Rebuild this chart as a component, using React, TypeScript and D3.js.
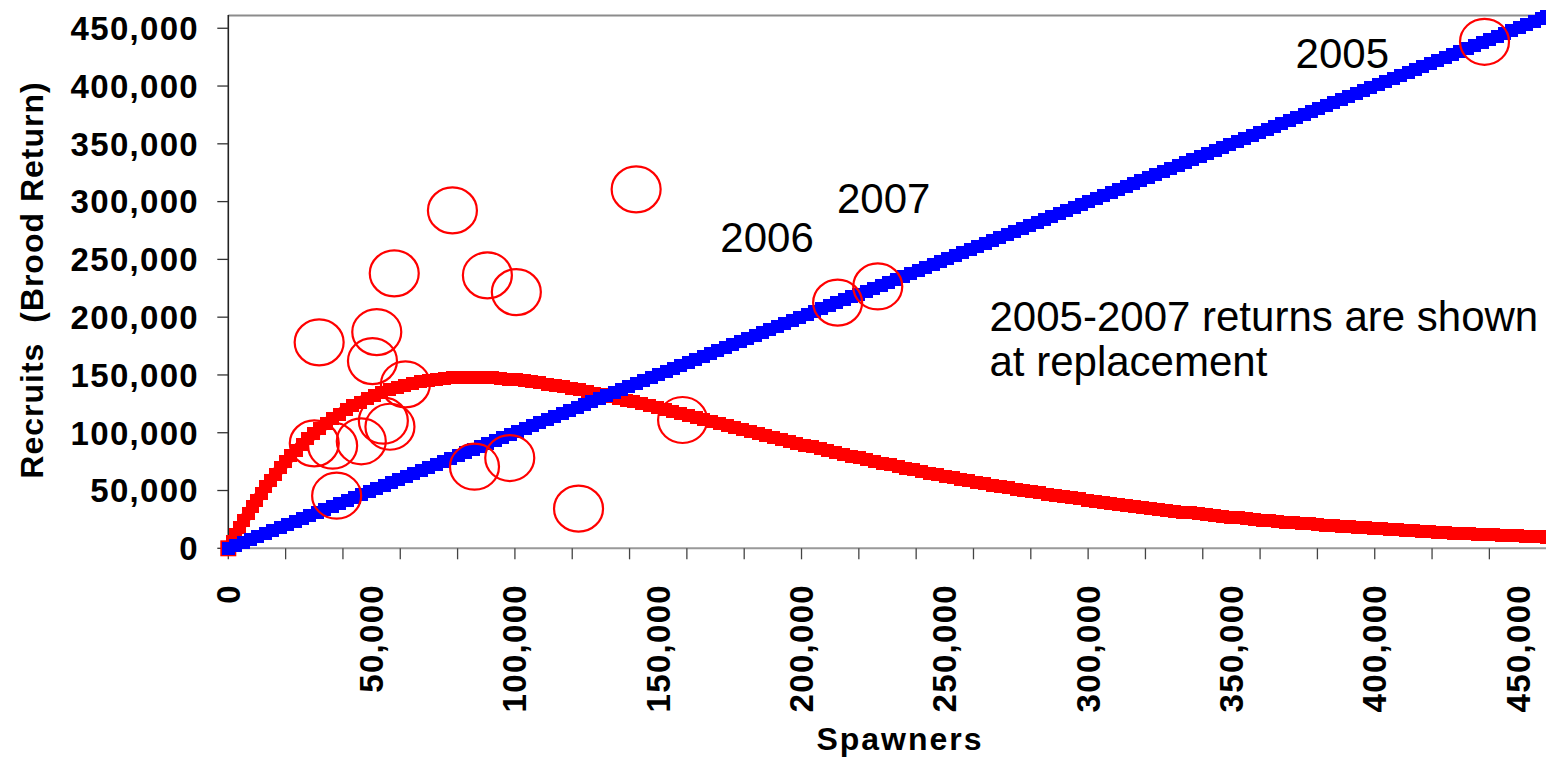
import React, { useEffect, useRef } from 'react';
import * as d3 from 'd3';

// Ricker curve (spawners -> recruits)
const curveSpawners = [0, 5000, 10000, 15000, 20000, 25000, 30000, 40000, 50000, 60000, 70000, 80000, 90000, 100000,
  120000, 140000, 160000, 180000, 200000, 220000, 240000, 260000, 280000, 300000, 330000, 360000, 390000, 420000, 460000];
const curveRecruits = [0, 22300, 42000, 59500, 74800, 88100, 99700, 118200, 131300, 140100, 145300, 147700, 147700, 145900,
  138300, 127500, 115200, 102400, 90000, 78200, 67400, 57700, 49100, 41600, 32200, 24600, 18800, 14200, 9700];

// replacement line (recruits = spawners)
const replacementSpawners = [0, 460000];
const replacementRecruits = [0, 460000];

// observed brood years
const obsSpawners = [31700, 51800, 50300, 61800, 30000, 36400, 46400, 54100, 56400, 37800, 85900, 98200, 122200, 158500,
  78200, 142300, 57900, 90400, 100500, 212600, 226600, 438300];
const obsRecruits = [178200, 187100, 162000, 141900, 90800, 88800, 92600, 110400, 105200, 45500, 70600, 78100, 34300, 111000,
  292400, 310600, 237900, 236200, 221700, 212600, 226600, 438300];

const yTickValues = [0, 50000, 100000, 150000, 200000, 250000, 300000, 350000, 400000, 450000];
const xLabelValues = [0, 50000, 100000, 150000, 200000, 250000, 300000, 350000, 400000, 450000];
const xTickStep = 20000;

const yearLabels = ['2005', '2006', '2007'];
const yearLabelS = [372900, 172200, 212900];
const yearLabelR = [415200, 256600, 289800];
const noteLines = ['2005-2007 returns are shown', 'at replacement'];

const W = 1546;
const H = 759;
const FONT = '"Liberation Sans", Arial, sans-serif';

const App = () => {
  const ref = useRef<SVGSVGElement>(null);

  useEffect(() => {
    const svg = d3.select(ref.current);
    svg.selectAll('*').remove();

    const x = d3.scaleLinear().domain([0, 460000]).range([228.3, 1546.7]);
    const y = d3.scaleLinear().domain([0, 460000]).range([548.3, 16.7]);
    const fmt = d3.format(',');

    // top frame line
    svg.append('line')
      .attr('x1', x(0)).attr('x2', W)
      .attr('y1', 15.5).attr('y2', 15.5)
      .attr('stroke', '#8c8c8c').attr('stroke-width', 2);

    // y axis
    svg.append('line')
      .attr('x1', x(0)).attr('x2', x(0))
      .attr('y1', 15).attr('y2', y(0))
      .attr('stroke', '#222').attr('stroke-width', 1.6);
    yTickValues.forEach(v => {
      svg.append('line')
        .attr('x1', x(0) - 11).attr('x2', x(0))
        .attr('y1', y(v)).attr('y2', y(v))
        .attr('stroke', '#333').attr('stroke-width', 1.3);
      svg.append('text')
        .attr('x', 199).attr('y', y(v)).attr('dy', '0.36em')
        .attr('text-anchor', 'end')
        .style('font-family', FONT).style('font-weight', 'bold')
        .style('font-size', '33px').style('letter-spacing', '1.3px')
        .text(fmt(v));
    });

    // x axis
    svg.append('line')
      .attr('x1', x(0)).attr('x2', W)
      .attr('y1', y(0)).attr('y2', y(0))
      .attr('stroke', '#999').attr('stroke-width', 2);
    d3.range(0, 460001, xTickStep).forEach(v => {
      svg.append('line')
        .attr('x1', x(v)).attr('x2', x(v))
        .attr('y1', y(0)).attr('y2', y(0) + 11)
        .attr('stroke', '#444').attr('stroke-width', 1.3);
    });
    xLabelValues.forEach(v => {
      svg.append('text')
        .attr('transform', `translate(${x(v)},584) rotate(-90)`)
        .attr('dy', '0.35em')
        .attr('text-anchor', 'end')
        .style('font-family', FONT).style('font-weight', 'bold')
        .style('font-size', '33px').style('letter-spacing', '1.3px')
        .text(fmt(v));
    });

    // axis titles
    svg.append('text')
      .attr('x', 900).attr('y', 750)
      .attr('text-anchor', 'middle')
      .style('font-family', FONT).style('font-weight', 'bold')
      .style('font-size', '32px').style('letter-spacing', '2px')
      .text('Spawners');
    svg.append('text')
      .attr('transform', 'translate(43,280) rotate(-90)')
      .attr('text-anchor', 'middle')
      .style('font-family', FONT).style('font-weight', 'bold')
      .style('font-size', '32px').style('letter-spacing', '1px')
      .style('white-space', 'pre')
      .text('Recruits  (Brood Return)');

    // square markers swept along a path, like the spreadsheet's marker chains
    const sweep = (sx: number[], sy: number[], color: string, curve: d3.CurveFactory, size: number) => {
      const line = d3.line<number>()
        .x(d => x(sx[d]))
        .y(d => y(sy[d]))
        .curve(curve);
      const g = svg.append('g');
      const path = g.append('path')
        .attr('d', line(d3.range(sx.length)))
        .attr('fill', 'none')
        .attr('stroke', color)
        .attr('stroke-width', size - 2);
      const node = path.node() as SVGPathElement;
      const len = node.getTotalLength();
      const pts = d3.range(0, len, 8).concat([len]).map(l => node.getPointAtLength(l));
      g.selectAll('rect').data(pts).enter().append('rect')
        .attr('x', p => Math.round(p.x - size / 2))
        .attr('y', p => Math.round(p.y - size / 2))
        .attr('width', size).attr('height', size)
        .attr('fill', color)
        .attr('shape-rendering', 'crispEdges');
    };

    // first red marker at origin (outlined)
    svg.append('rect')
      .attr('x', x(0) - 7).attr('y', y(0) - 7)
      .attr('width', 14).attr('height', 14)
      .attr('fill', '#0000FF').attr('stroke', '#FF0000').attr('stroke-width', 2);

    sweep(curveSpawners, curveRecruits, '#FF0000', d3.curveMonotoneX, 13);
    sweep(replacementSpawners, replacementRecruits, '#0000FF', d3.curveLinear, 13);

    // observed points
    svg.append('g').selectAll('ellipse')
      .data(d3.range(obsSpawners.length))
      .enter().append('ellipse')
      .attr('cx', i => x(obsSpawners[i]))
      .attr('cy', i => y(obsRecruits[i]))
      .attr('rx', 24.5).attr('ry', 23)
      .attr('fill', 'none')
      .attr('stroke', '#FF0000')
      .attr('stroke-width', 2.2);

    // year annotations
    yearLabels.forEach((t, i) => {
      svg.append('text')
        .attr('x', x(yearLabelS[i]) - 1.5).attr('y', y(yearLabelR[i]))
        .style('font-family', FONT).style('font-size', '42px')
        .text(t);
    });
    noteLines.forEach((t, i) => {
      svg.append('text')
        .attr('x', 989.5).attr('y', 330.5 + i * 45.2)
        .style('font-family', FONT).style('font-size', '42px')
        .text(t);
    });
  }, []);

  return (
    <svg
      ref={ref}
      width={W}
      height={H}
      style={{ position: 'absolute', left: 0, top: 0, background: '#fff' }}
    />
  );
};

export default App;
